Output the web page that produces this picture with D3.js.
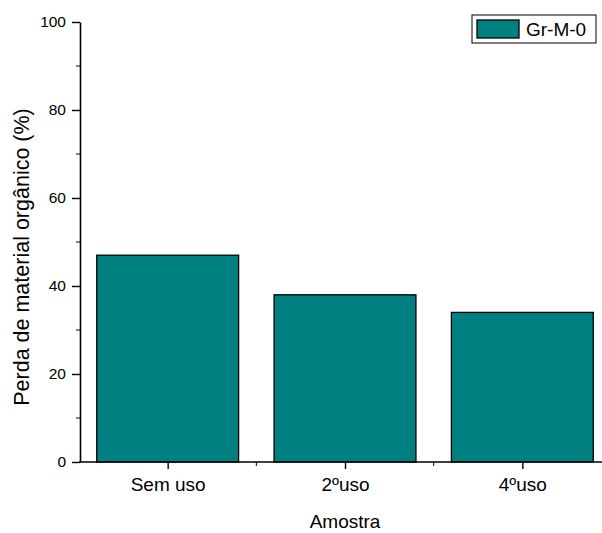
<!DOCTYPE html>
<html>
<head>
<meta charset="utf-8">
<script src="https://cdn.jsdelivr.net/npm/d3@7"></script>
<style>
  html, body { margin: 0; padding: 0; background: #fff; }
  svg { display: block; font-family: "Liberation Sans", Arial, sans-serif; }
</style>
</head>
<body>
<svg id="chart" width="602" height="533"></svg>
<script>
const categories = ["Sem uso", "2ºuso", "4ºuso"];
const values = [47, 38, 34];
const yTicks = [0, 20, 40, 60, 80, 100];
const yMinorTicks = [10, 30, 50, 70, 90];
const seriesName = "Gr-M-0";

const svg = d3.select("#chart");
const color = "#008080";

// positional scales: categories at 1,2,3, domain 0.5..3.5
const x = d3.scaleLinear().domain([0.5, 3.5]).range([79, 611]);
const y = d3.scaleLinear().domain([0, 100]).range([462, 22]);
const barW = 0.8;

// bars
svg.append("g").selectAll("rect").data(values).join("rect")
  .attr("x", (d, i) => x(i + 1 - barW / 2))
  .attr("width", x(barW) - x(0))
  .attr("y", d => y(d))
  .attr("height", d => y(0) - y(d))
  .attr("fill", color)
  .attr("stroke", "#000")
  .attr("stroke-width", 1.3);

// y axis
const yAxis = svg.append("g").attr("transform", `translate(${x(0.5) + 1},0)`);
yAxis.call(d3.axisLeft(y).tickValues(yTicks).tickSize(8).tickPadding(6).tickSizeOuter(0));
yAxis.append("g").selectAll("line").data(yMinorTicks).join("line")
  .attr("x1", 0).attr("x2", -4).attr("y1", d => y(d)).attr("y2", d => y(d))
  .attr("stroke", "#000");
yAxis.selectAll(".domain").attr("stroke-width", 1.6);
yAxis.selectAll(".tick line").attr("stroke-width", 1.4);
yAxis.selectAll("text").attr("font-size", 15.5).attr("fill", "#000")
  .attr("font-family", "Liberation Sans, Arial, sans-serif");

// x axis
const xAxis = svg.append("g").attr("transform", `translate(0,${y(0)})`);
xAxis.call(d3.axisBottom(x).tickValues([1, 2, 3]).tickFormat((d) => categories[d - 1])
  .tickSize(7).tickPadding(9).tickSizeOuter(0));
xAxis.append("g").selectAll("line").data([1.5, 2.5]).join("line")
  .attr("x1", d => x(d)).attr("x2", d => x(d)).attr("y1", 0).attr("y2", 4)
  .attr("stroke", "#000");
xAxis.select(".domain").attr("d", `M${x(0.5)},0H602`).attr("stroke-width", 1.6);
xAxis.selectAll(".tick line").attr("stroke-width", 1.4);
xAxis.selectAll("text").attr("font-size", 19).attr("fill", "#000")
  .attr("font-family", "Liberation Sans, Arial, sans-serif");

// axis titles
svg.append("text")
  .attr("x", (x(1) + x(3)) / 2).attr("y", 528)
  .attr("text-anchor", "middle").attr("font-size", 19).attr("fill", "#000")
  .text("Amostra");
svg.append("text")
  .attr("transform", "translate(28.5,257) rotate(-90)")
  .attr("text-anchor", "middle").attr("font-size", 21.5).attr("fill", "#000")
  .text("Perda de material orgânico (%)");

// legend
const lg = svg.append("g");
lg.append("rect").attr("x", 472).attr("y", 15).attr("width", 124).attr("height", 28)
  .attr("fill", "#fff").attr("stroke", "#000").attr("stroke-width", 1);
lg.append("rect").attr("x", 477).attr("y", 20).attr("width", 42).attr("height", 18)
  .attr("fill", color).attr("stroke", "#000").attr("stroke-width", 1.3);
lg.append("text").attr("x", 526).attr("y", 36).attr("font-size", 19).attr("fill", "#000")
  .text(seriesName);
</script>
</body>
</html>
